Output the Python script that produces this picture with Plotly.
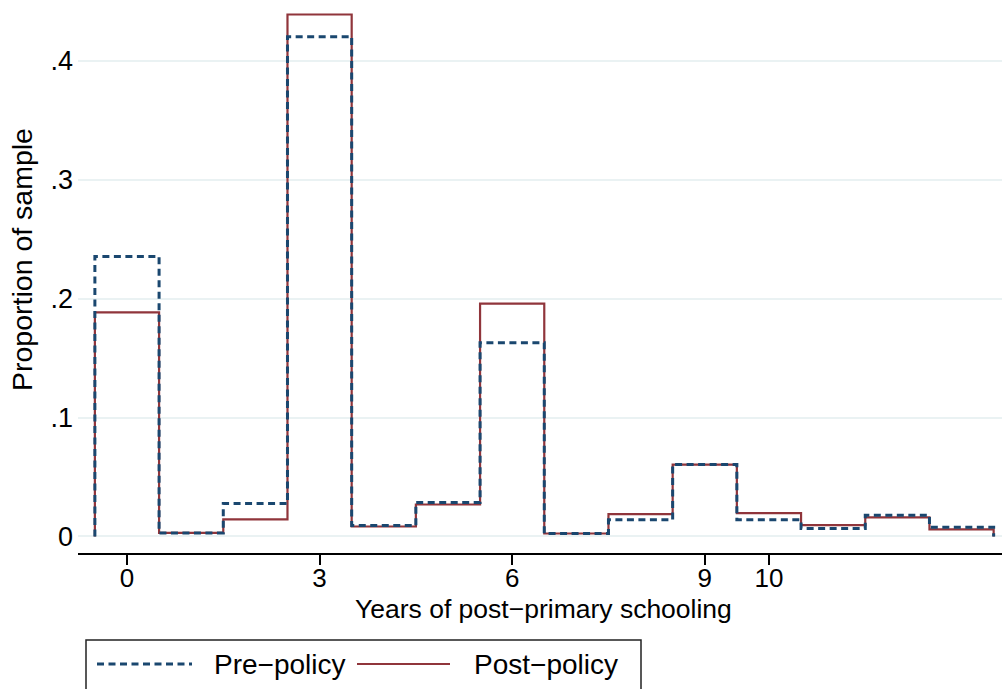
import plotly.graph_objects as go

# Years of post-primary schooling (bin centres) and sample shares per bin
years = list(range(14))
pre_policy = [0.2355, 0.0030, 0.0277, 0.4204, 0.0092, 0.0286, 0.1630,
              0.0025, 0.0140, 0.0605, 0.0140, 0.0067, 0.0179, 0.0078]
post_policy = [0.1885, 0.0030, 0.0143, 0.4390, 0.0084, 0.0269, 0.1958,
               0.0025, 0.0188, 0.0605, 0.0196, 0.0095, 0.0160, 0.0059]

x_ticks = [0, 3, 6, 9, 10]
y_ticks = [0, 0.1, 0.2, 0.3, 0.4]
y_tick_text = ["0", ".1", ".2", ".3", ".4"]

BLUE = "#1a476f"
RED = "#90353b"
GRID = "#eaf2f3"
FONT = "Liberation Sans, Arial, Helvetica, sans-serif"


def step_path(centres, values):
    """Outline of a histogram: up from zero at the first edge, across each bin, down at the last."""
    xs = [centres[0] - 0.5] + [c - 0.5 for c in centres] + [centres[-1] + 0.5]
    ys = [0] + list(values) + [0]
    return xs, ys


fig = go.Figure()

px_, py_ = step_path(years, post_policy)
fig.add_trace(go.Scatter(x=px_, y=py_, mode="lines", line_shape="hv",
                         line=dict(color=RED, width=2.2), name="Post\u2212policy"))

qx, qy = step_path(years, pre_policy)
fig.add_trace(go.Scatter(x=qx, y=qy, mode="lines", line_shape="hv",
                         line=dict(color=BLUE, width=3, dash="7px,4.5px"),
                         name="Pre\u2212policy"))

# plot area geometry in pixels
W, H = 1002, 689
L, R, T, B = 78, 0, 5, 136
pw, ph = W - L - R, H - T - B


def pxx(x):
    return (x - L) / pw


def pyy(y):
    return (H - B - y) / ph


fig.update_layout(
    width=W, height=H,
    margin=dict(l=L, r=R, t=T, b=B),
    paper_bgcolor="white", plot_bgcolor="white",
    showlegend=False,
    font=dict(family=FONT, size=27, color="black"),
    xaxis=dict(
        range=[-0.763, 13.63],
        tickmode="array", tickvals=x_ticks,
        ticks="outside", ticklen=10, tickwidth=1.5, tickcolor="black",
        showline=True, linecolor="black", linewidth=1.5,
        showgrid=False, zeroline=False,
        tickfont=dict(size=26),
        ticklabelstandoff=-9,
    ),
    yaxis=dict(
        range=[-0.0139, 0.447],
        tickmode="array", tickvals=y_ticks, ticktext=y_tick_text,
        showgrid=True, gridcolor=GRID, gridwidth=2,
        showline=False, zeroline=False, ticks="",
        ticklabelstandoff=4,
        tickfont=dict(size=27),
    ),
)

# axis titles
fig.add_annotation(text="Years of post\u2212primary schooling",
                   xref="paper", yref="paper", x=pxx(543), y=pyy(609),
                   xanchor="center", yanchor="middle", showarrow=False,
                   font=dict(size=26.5))
fig.add_annotation(text="Proportion of sample", textangle=-90,
                   xref="paper", yref="paper", x=pxx(22), y=pyy(260),
                   xanchor="center", yanchor="middle", showarrow=False,
                   font=dict(size=28.5))

# legend box with its two keys
fig.add_shape(type="rect", xref="paper", yref="paper",
              x0=pxx(86), x1=pxx(641), y0=pyy(640), y1=pyy(705),
              line=dict(color="#222222", width=1.5), fillcolor="white")
fig.add_shape(type="line", xref="paper", yref="paper",
              x0=pxx(97), x1=pxx(192), y0=pyy(664), y1=pyy(664),
              line=dict(color=BLUE, width=3, dash="7px,4.5px"))
fig.add_shape(type="line", xref="paper", yref="paper",
              x0=pxx(357), x1=pxx(450), y0=pyy(664), y1=pyy(664),
              line=dict(color=RED, width=2.2))
fig.add_annotation(text="Pre\u2212policy", xref="paper", yref="paper",
                   x=pxx(212), y=pyy(664), xanchor="left", yanchor="middle",
                   showarrow=False, font=dict(size=28))
fig.add_annotation(text="Post\u2212policy", xref="paper", yref="paper",
                   x=pxx(472), y=pyy(664), xanchor="left", yanchor="middle",
                   showarrow=False, font=dict(size=28))

fig.write_html("out.html")
